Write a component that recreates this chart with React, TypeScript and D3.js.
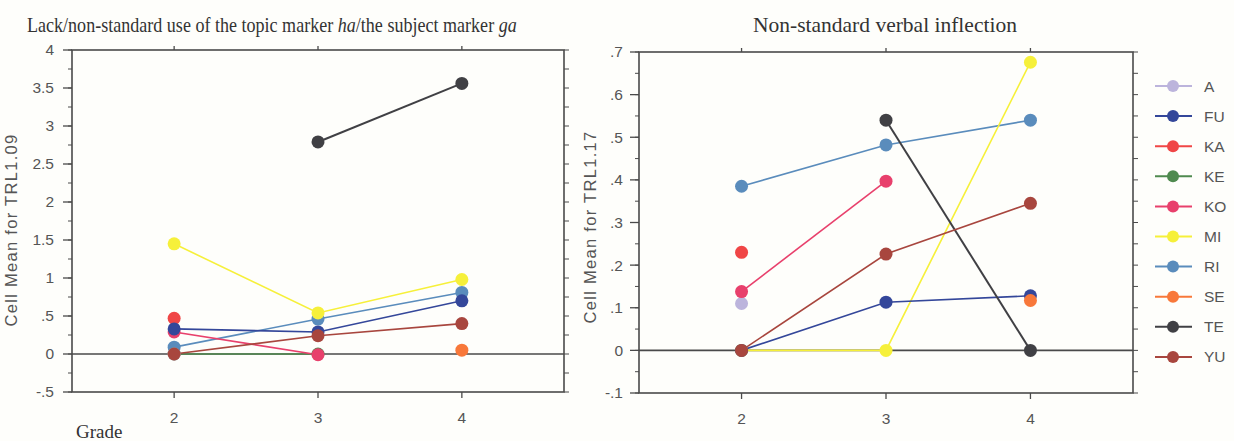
import React from "react";
import * as d3 from "d3";

const grades = [2, 3, 4];
const groups = ["A", "FU", "KA", "KE", "KO", "MI", "RI", "SE", "TE", "YU"];
const colors = ["#bcb4dc", "#34479a", "#f04646", "#4f8a4f", "#e8406c", "#f6f03a", "#5a8cbc", "#f8783a", "#404044", "#a8463e"];

// Left panel: TRL1.09 (values per grade 2,3,4)
const leftA = [0, null, null];
const leftFU = [0.33, 0.29, 0.7];
const leftKA = [0.47, null, null];
const leftKE = [0, 0, null];
const leftKO = [0.29, -0.01, null];
const leftMI = [1.45, 0.54, 0.98];
const leftRI = [0.09, 0.46, 0.81];
const leftSE = [null, null, 0.05];
const leftTE = [null, 2.79, 3.56];
const leftYU = [0, 0.24, 0.4];

// Right panel: TRL1.17
const rightA = [0.11, null, null];
const rightFU = [0, 0.113, 0.128];
const rightKA = [0.23, null, null];
const rightKE = [null, null, null];
const rightKO = [0.138, 0.397, null];
const rightMI = [0, 0, 0.676];
const rightRI = [0.385, 0.482, 0.54];
const rightSE = [null, null, 0.117];
const rightTE = [null, 0.54, 0];
const rightYU = [0, 0.226, 0.345];

const leftSeries = [leftA, leftFU, leftKA, leftKE, leftKO, leftMI, leftRI, leftSE, leftTE, leftYU];
const rightSeries = [rightA, rightFU, rightKA, rightKE, rightKO, rightMI, rightRI, rightSE, rightTE, rightYU];

const leftTicks = [-0.5, 0, 0.5, 1, 1.5, 2, 2.5, 3, 3.5, 4];
const rightTicks = [-0.1, 0, 0.1, 0.2, 0.3, 0.4, 0.5, 0.6, 0.7];

const fmt = (v: number) => {
  if (v === 0) return "0";
  let s = String(Math.round(v * 100) / 100);
  s = s.replace(/^0\./, ".").replace(/^-0\./, "-.");
  return s;
};

const AXIS = "#4a4a4a";
const TEXT = "#555";
const SANS = "Arial, 'Liberation Sans', sans-serif";
const SERIF = "'Times New Roman', 'Liberation Serif', serif";

type PanelProps = {
  x0: number; x1: number; y0: number; y1: number;
  domain: [number, number]; ticks: number[]; minorStep: number; rightStep: number;
  series: (number | null)[][]; ylabel: string; labelX: number; labelY: number; labelGap: number;
};

function Panel({ x0, x1, y0, y1, domain, ticks, minorStep, rightStep, series, ylabel, labelX, labelY, labelGap }: PanelProps) {
  const x = d3.scaleLinear().domain([1.29, 4.71]).range([x0, x1]);
  const y = d3.scaleLinear().domain(domain).range([y1, y0]);
  const minor = d3.range(domain[0], domain[1] + 1e-9, minorStep);
  const rightT = d3.range(domain[0], domain[1] + 1e-9, rightStep);
  const line = d3.line<{ g: number; v: number | null }>()
    .defined((d) => d.v != null)
    .x((d) => x(d.g))
    .y((d) => y(d.v as number));
  const order = [6, 5, 3, 0, 2, 4, 1, 7, 8, 9];
  return (
    <g>
      <line x1={x0} x2={x1} y1={y(0)} y2={y(0)} stroke={AXIS} strokeWidth={1.6} />
      <rect x={x0} y={y0} width={x1 - x0} height={y1 - y0} fill="none" stroke={AXIS} strokeWidth={1.6} />
      {minor.map((t, i) => (
        <line key={"m" + i} x1={x0 - 4} x2={x0} y1={y(t)} y2={y(t)} stroke={AXIS} strokeWidth={1} />
      ))}
      {ticks.map((t, i) => (
        <g key={"t" + i}>
          <line x1={x0 - 9} x2={x0} y1={y(t)} y2={y(t)} stroke={AXIS} strokeWidth={1.3} />
          <text x={x0 - labelGap} y={y(t)} dy="0.35em" textAnchor="end" fontFamily={SANS} fontSize={15.5} fill={TEXT}>{fmt(t)}</text>
        </g>
      ))}
      {rightT.map((t, i) => (
        <line key={"r" + i} x1={x1} x2={x1 + 5} y1={y(t)} y2={y(t)} stroke={AXIS} strokeWidth={1} />
      ))}
      {grades.map((g) => (
        <g key={"x" + g}>
          <line x1={x(g)} x2={x(g)} y1={y1} y2={y1 + 6} stroke={AXIS} strokeWidth={1.3} />
          <line x1={x(g)} x2={x(g)} y1={y0} y2={y0 - 4} stroke={AXIS} strokeWidth={1.3} />
          <text x={x(g)} y={y1 + 31} textAnchor="middle" fontFamily={SANS} fontSize={15.5} fill={TEXT}>{g}</text>
        </g>
      ))}
      <text transform={`translate(${labelX},${labelY}) rotate(-90)`} textAnchor="middle" fontFamily={SANS} fontSize={16.5} letterSpacing={1.3} fill={TEXT}>{ylabel}</text>
      {order.map((si) => {
        const pts = grades.map((g, i) => ({ g, v: series[si][i] }));
        return <path key={"l" + si} d={line(pts) || ""} fill="none" stroke={colors[si]} strokeWidth={si === 8 ? 2 : 1.6} />;
      })}
      {order.map((si) =>
        grades.map((g, i) => {
          const v = series[si][i];
          if (v == null) return null;
          return <circle key={"c" + si + "-" + i} cx={x(g)} cy={y(v)} r={6.5} fill={colors[si]} />;
        })
      )}
    </g>
  );
}

export default function App() {
  return (
    <svg width={1234} height={441} style={{ position: "fixed", left: 0, top: 0, background: "#fefefb" }}>
      <rect width={1234} height={441} fill="#fefefb" />
      <text transform="translate(27,32) scale(0.84,1)" fontFamily={SERIF} fontSize={21.5} fill="#333">
        Lack/non-standard use of the topic marker <tspan fontStyle="italic">ha</tspan>/the subject marker <tspan fontStyle="italic">ga</tspan>
      </text>
      <text x={753} y={32} fontFamily={SERIF} fontSize={21.5} fill="#333">Non-standard verbal inflection</text>
      <Panel x0={72} x1={564} y0={50} y1={392} domain={[-0.5, 4]} ticks={leftTicks} minorStep={0.25} rightStep={0.25}
        series={leftSeries} ylabel="Cell Mean for TRL1.09" labelX={17} labelY={230} labelGap={18} />
      <Panel x0={639} x1={1133} y0={52} y1={393} domain={[-0.1, 0.7]} ticks={rightTicks} minorStep={0.05} rightStep={0.05}
        series={rightSeries} ylabel="Cell Mean for TRL1.17" labelX={596} labelY={227} labelGap={16} />
      <text x={76} y={438} fontFamily={SERIF} fontSize={19} fill="#333">Grade</text>
      {groups.map((gname, i) => {
        const yy = 86 + i * 30.1;
        return (
          <g key={gname}>
            <line x1={1155} x2={1192} y1={yy} y2={yy} stroke={colors[i]} strokeWidth={2} />
            <circle cx={1173} cy={yy} r={6} fill={colors[i]} />
            <text x={1204} y={yy} dy="0.36em" fontFamily={SANS} fontSize={15.5} fill={TEXT}>{gname}</text>
          </g>
        );
      })}
    </svg>
  );
}
